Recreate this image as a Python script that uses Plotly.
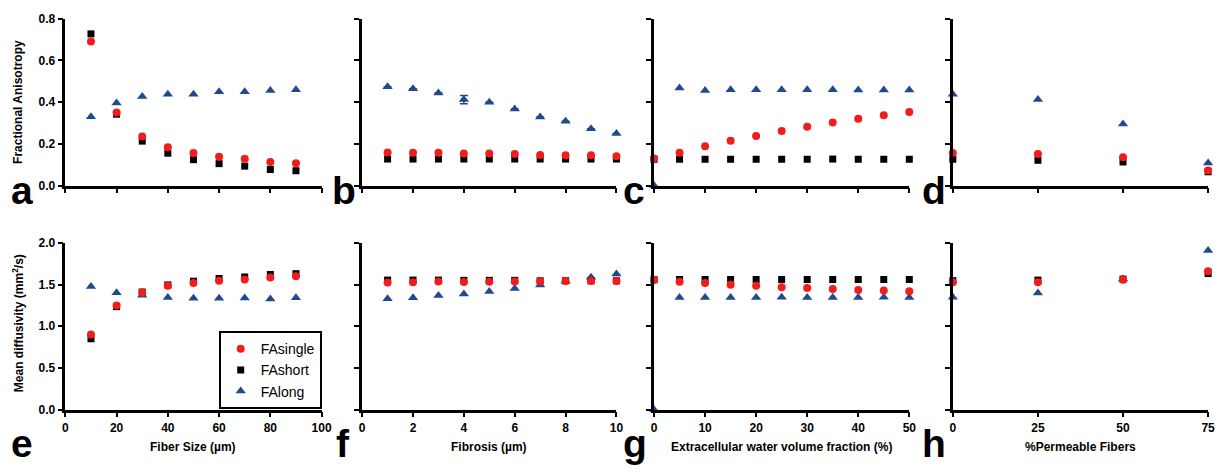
import plotly.graph_objects as go

# ---------------- data ----------------
fiber_size = [10, 20, 30, 40, 50, 60, 70, 80, 90]
fibrosis = [1, 2, 3, 4, 5, 6, 7, 8, 9, 10]
ecv = [0, 5, 10, 15, 20, 25, 30, 35, 40, 45, 50]
permeable = [0, 25, 50, 75]

# Fractional anisotropy
fa_a_single = [0.690, 0.350, 0.235, 0.183, 0.156, 0.138, 0.128, 0.113, 0.107]
fa_a_short = [0.727, 0.342, 0.213, 0.155, 0.124, 0.105, 0.093, 0.077, 0.071]
fa_a_long = [0.330, 0.396, 0.427, 0.438, 0.438, 0.449, 0.450, 0.456, 0.459]

fa_b_single = [0.158, 0.157, 0.157, 0.154, 0.153, 0.151, 0.146, 0.145, 0.145, 0.140]
fa_b_short = [0.127, 0.127, 0.127, 0.127, 0.127, 0.127, 0.127, 0.127, 0.127, 0.127]
fa_b_long = [0.474, 0.464, 0.444, 0.412, 0.399, 0.367, 0.329, 0.308, 0.272, 0.249]
fa_b_long_err = [0, 0, 0, 0.02, 0, 0, 0, 0, 0, 0]

fa_c_single = [0.130, 0.157, 0.188, 0.215, 0.238, 0.262, 0.282, 0.302, 0.320, 0.337, 0.352]
fa_c_short = [0.126, 0.126, 0.126, 0.126, 0.126, 0.126, 0.126, 0.127, 0.126, 0.126, 0.126]
fa_c_long = [0.0, 0.467, 0.456, 0.459, 0.459, 0.459, 0.459, 0.459, 0.458, 0.458, 0.458]

fa_d_single = [0.156, 0.151, 0.135, 0.072]
fa_d_short = [0.126, 0.121, 0.113, 0.066]
fa_d_long = [0.437, 0.412, 0.295, 0.108]

# Mean diffusivity
md_e_single = [0.900, 1.250, 1.405, 1.485, 1.518, 1.545, 1.560, 1.585, 1.600]
md_e_short = [0.850, 1.235, 1.410, 1.495, 1.540, 1.572, 1.590, 1.620, 1.630]
md_e_long = [1.476, 1.400, 1.370, 1.345, 1.335, 1.335, 1.338, 1.325, 1.342]

md_f_single = [1.525, 1.527, 1.535, 1.530, 1.533, 1.535, 1.540, 1.542, 1.542, 1.542]
md_f_short = [1.553, 1.553, 1.553, 1.550, 1.550, 1.550, 1.545, 1.545, 1.545, 1.545]
md_f_long = [1.328, 1.340, 1.367, 1.386, 1.417, 1.452, 1.495, 1.540, 1.588, 1.627]

md_g_single = [1.555, 1.532, 1.517, 1.497, 1.485, 1.466, 1.458, 1.446, 1.435, 1.427, 1.419]
md_g_short = [1.558, 1.560, 1.560, 1.560, 1.560, 1.560, 1.560, 1.560, 1.560, 1.560, 1.560]
md_g_long = [0.0, 1.345, 1.345, 1.345, 1.345, 1.348, 1.345, 1.345, 1.345, 1.348, 1.345]

md_h_single = [1.526, 1.526, 1.557, 1.658]
md_h_short = [1.546, 1.553, 1.565, 1.631]
md_h_long = [1.348, 1.398, 1.565, 1.907]

series_names = ["FAsingle", "FAshort", "FAlong"]
fa_ticks = [0.0, 0.2, 0.4, 0.6, 0.8]
md_ticks = [0.0, 0.5, 1.0, 1.5, 2.0]
x_ticks = {
    "size": [0, 20, 40, 60, 80, 100],
    "fib": [0, 2, 4, 6, 8, 10],
    "ecv": [0, 10, 20, 30, 40, 50],
    "perm": [0, 25, 50, 75],
}
x_titles = ["Fiber Size (µm)", "Fibrosis (µm)",
            "Extracellular water volume fraction (%)", "%Permeable Fibers"]
panel_letters = ["a", "b", "c", "d", "e", "f", "g", "h"]

# ---------------- style ----------------
W, H = 1228, 472
RED = "#f21c1c"
BLACK = "#000000"
BLUE = "#1f4b8e"
FONT = "Liberation Sans, Arial, sans-serif"

col_px = [(63, 322), (363, 620), (658, 916), (960, 1218)]
row_px = [(12, 184), (243, 415)]
x_ranges = [[0, 100], [0, 10], [0, 50], [0, 75]]
x_tick_keys = ["size", "fib", "ecv", "perm"]


def px_x(p):
    return p / W


def px_y(p):
    return 1 - p / H


panels = [
    (fiber_size, fa_a_single, fa_a_short, fa_a_long, None),
    (fibrosis, fa_b_single, fa_b_short, fa_b_long, fa_b_long_err),
    (ecv, fa_c_single, fa_c_short, fa_c_long, None),
    (permeable, fa_d_single, fa_d_short, fa_d_long, None),
    (fiber_size, md_e_single, md_e_short, md_e_long, None),
    (fibrosis, md_f_single, md_f_short, md_f_long, None),
    (ecv, md_g_single, md_g_short, md_g_long, None),
    (permeable, md_h_single, md_h_short, md_h_long, None),
]

fig = go.Figure()
layout = {}

for i, (xs, ys_single, ys_short, ys_long, err) in enumerate(panels):
    row, col = divmod(i, 4)
    n = i + 1
    xa = "x" if n == 1 else f"x{n}"
    ya = "y" if n == 1 else f"y{n}"
    show_leg = (i == 4)

    long_tr = go.Scatter(
        x=xs, y=ys_long, mode="markers", name=series_names[2],
        marker=dict(symbol="triangle-up", size=9, color=BLUE),
        xaxis=xa, yaxis=ya, showlegend=show_leg, legendrank=3, cliponaxis=False,
    )
    if err is not None:
        long_tr.error_y = dict(type="data", array=err, visible=True,
                               color=BLUE, thickness=1.5, width=4)
    fig.add_trace(long_tr)
    fig.add_trace(go.Scatter(
        x=xs, y=ys_short, mode="markers", name=series_names[1],
        marker=dict(symbol="square", size=7, color=BLACK),
        xaxis=xa, yaxis=ya, showlegend=show_leg, legendrank=2, cliponaxis=False,
    ))
    fig.add_trace(go.Scatter(
        x=xs, y=ys_single, mode="markers", name=series_names[0],
        marker=dict(symbol="circle", size=8, color=RED),
        xaxis=xa, yaxis=ya, showlegend=show_leg, legendrank=1, cliponaxis=False,
    ))

    x0, x1 = col_px[col]
    yt, yb = row_px[row]
    ticks_y = fa_ticks if row == 0 else md_ticks
    axis_common = dict(
        showline=True, linecolor="black", linewidth=2.5,
        ticks="outside", ticklen=5, tickwidth=2, tickcolor="black",
        showgrid=False, zeroline=False,
        tickfont=dict(family=FONT, size=12, color="black", weight="bold"),
    )
    xkey = "xaxis" if n == 1 else f"xaxis{n}"
    ykey = "yaxis" if n == 1 else f"yaxis{n}"
    layout[xkey] = dict(
        axis_common, domain=[px_x(x0), px_x(x1)], anchor=ya,
        range=x_ranges[col], tickvals=x_ticks[x_tick_keys[col]],
        showticklabels=(row == 1),
    )
    layout[ykey] = dict(
        axis_common, domain=[px_y(yb), px_y(yt)], anchor=xa,
        range=[ticks_y[0], ticks_y[-1]], tickvals=ticks_y, tickformat=".1f",
        showticklabels=(col == 0),
    )

annotations = []
# y-axis titles
annotations.append(dict(
    text="<b>Fractional Anisotropy</b>", x=px_x(15), y=px_y(98),
    xref="paper", yref="paper", textangle=-90, showarrow=False,
    font=dict(family=FONT, size=12, color="black"), xanchor="center", yanchor="middle",
))
annotations.append(dict(
    text="<b>Mean diffusivity (mm<sup>2</sup>/s)</b>", x=px_x(15), y=px_y(326),
    xref="paper", yref="paper", textangle=-90, showarrow=False,
    font=dict(family=FONT, size=12, color="black"), xanchor="center", yanchor="middle",
))
# x-axis titles
for col, t in enumerate(x_titles):
    x0, x1 = col_px[col]
    annotations.append(dict(
        text=f"<b>{t}</b>", x=px_x((x0 + x1) / 2), y=px_y(453),
        xref="paper", yref="paper", showarrow=False,
        font=dict(family=FONT, size=12, color="black"), xanchor="center", yanchor="middle",
    ))
# panel letters
letter_x = [6, 330, 625, 927, 6, 335, 625, 927]
for i, L in enumerate(panel_letters):
    row = i // 4
    base = 204 if row == 0 else 465
    annotations.append(dict(
        text=f"<b>{L}</b>", x=px_x(letter_x[i]), y=px_y(base + 9),
        xref="paper", yref="paper", showarrow=False,
        font=dict(family=FONT, size=39, color="black"), xanchor="left", yanchor="bottom",
    ))

fig.update_layout(
    width=W, height=H,
    margin=dict(l=0, r=0, t=0, b=0),
    paper_bgcolor="white", plot_bgcolor="white",
    showlegend=True,
    legend=dict(
        x=px_x(218), y=px_y(334), xanchor="left", yanchor="top",
        bgcolor="white", bordercolor="black", borderwidth=2,
        font=dict(family=FONT, size=14, color="black"),
        itemwidth=30, tracegroupgap=0,
    ),
    annotations=annotations,
    **layout,
)

fig.write_html(
    "out.html",
    config={"displayModeBar": False},
    post_script="document.body.style.margin='0';document.body.style.overflow='hidden';",
)
